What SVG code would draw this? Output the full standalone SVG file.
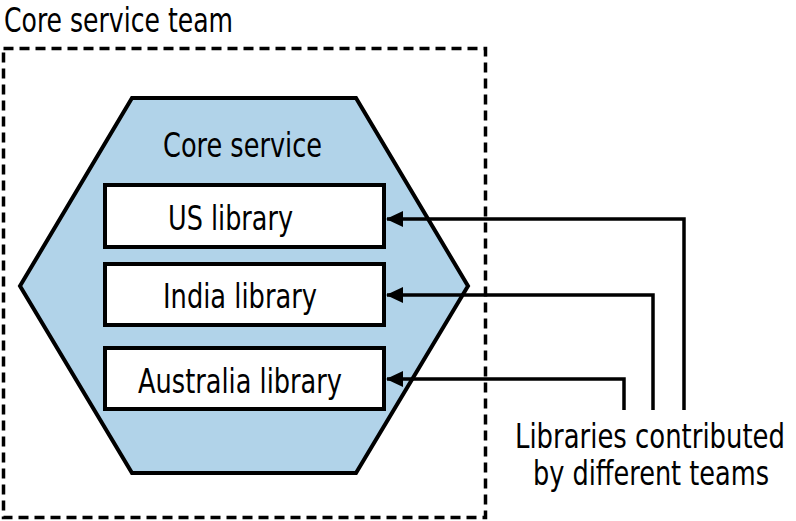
<svg xmlns="http://www.w3.org/2000/svg" width="796" height="521" viewBox="0 0 796 521">
<style>
text{font-family:"Liberation Sans Narrow","DejaVu Sans Condensed","Liberation Sans",sans-serif;font-size:34.5px;fill:#000}
.box{fill:#fff;stroke:#000;stroke-width:4}
.conn{fill:none;stroke:#000;stroke-width:3.5}
</style>
<defs>
<marker id="ah" viewBox="0 0 17 16" refX="16" refY="8" markerWidth="17" markerHeight="16" markerUnits="userSpaceOnUse" orient="auto">
<path d="M0,0 L17,8 L0,16 Z" fill="#000"/>
</marker>
</defs>
<rect x="0" y="0" width="796" height="521" fill="#fff"/>
<g id="team">
<rect x="3.5" y="48.5" width="482" height="469" fill="none" stroke="#000" stroke-width="3.5" stroke-dasharray="10 6"/>
<text x="4" y="32" textLength="229" lengthAdjust="spacingAndGlyphs">Core service team</text>
</g>
<g id="core-service">
<polygon points="132,98 356,98 468,286 356,473 132,473 20,286" fill="#b1d3e9" stroke="#000" stroke-width="4" stroke-linejoin="miter"/>
<text x="163" y="157" textLength="159" lengthAdjust="spacingAndGlyphs">Core service</text>
</g>
<g id="us-library">
<rect class="box" x="105" y="185" width="279" height="62"/>
<text x="168" y="230" textLength="125" lengthAdjust="spacingAndGlyphs">US library</text>
</g>
<g id="india-library">
<rect class="box" x="105" y="264" width="279" height="61"/>
<text x="163" y="308" textLength="154" lengthAdjust="spacingAndGlyphs">India library</text>
</g>
<g id="australia-library">
<rect class="box" x="105" y="348" width="279" height="61"/>
<text x="138" y="393" textLength="204" lengthAdjust="spacingAndGlyphs">Australia library</text>
</g>
<g id="connectors">
<polyline class="conn" points="684,410 684,219 387,219" marker-end="url(#ah)"/>
<polyline class="conn" points="653,410 653,295 387,295" marker-end="url(#ah)"/>
<polyline class="conn" points="624,410 624,379 387,379" marker-end="url(#ah)"/>
</g>
<g id="label">
<g transform="translate(515,448) scale(0.83,1)">
<text x="0" y="0" textLength="325.3" lengthAdjust="spacingAndGlyphs">Libraries contributed</text>
</g>
<g transform="translate(533,485) scale(0.82,1)">
<text x="0" y="0" textLength="287.8" lengthAdjust="spacingAndGlyphs">by different teams</text>
</g>
</g>
</svg>
